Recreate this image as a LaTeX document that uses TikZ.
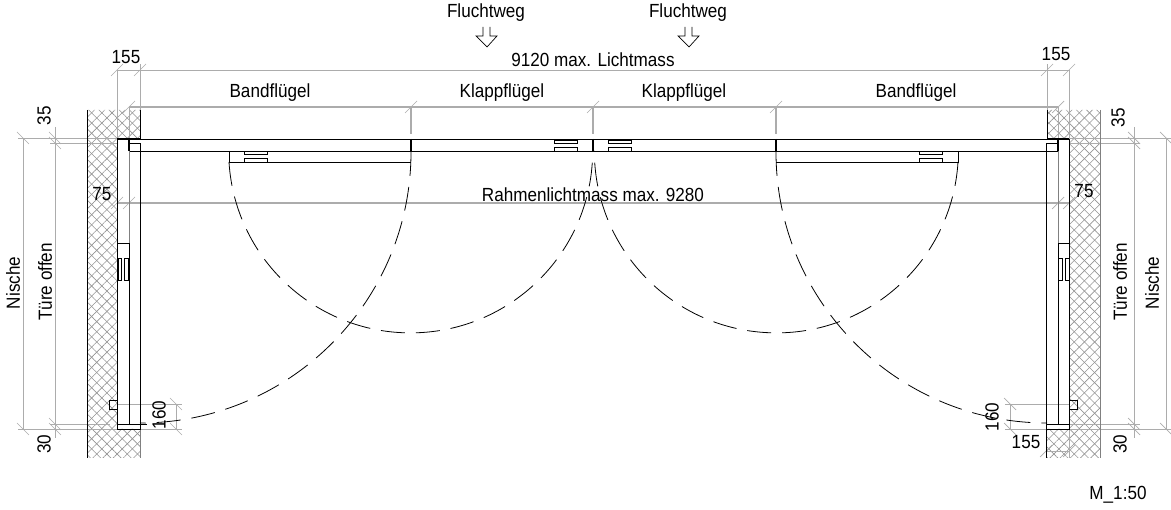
\documentclass[tikz,border=0pt]{standalone}
\usepackage{fontspec}
\setmainfont[FakeStretch=0.9]{Liberation Sans}
\usetikzlibrary{patterns.meta}

\tikzset{
    wall/.style={preaction={pattern={Lines[angle=45,distance=7.2pt,line width=.6pt]},pattern color=gray!85},
        pattern={Lines[angle=-45,distance=7.2pt,line width=.6pt]},pattern color=gray!85},
    dimline/.style={draw=gray!65,line width=.9pt},
    dimtext/.style={inner sep=0pt,font=\fontsize{19}{22}\selectfont},
    plan/.style={draw=black,line width=.9pt},
    swing/.style={draw=black,line width=.8pt,dash pattern=on 24pt off 11pt},
    slash/.pic={\draw[dimline,line width=.7pt] (-6,6) -- (6,-6);},
    backslash/.pic={\draw[dimline,line width=.7pt] (-6,-6) -- (6,6);},
    hinge/.pic={
        \draw[plan,line width=.7pt] (0,0) rectangle (23,3);
        \draw[plan,line width=.7pt] (0,11) -- (0,7) -- (23,7) -- (23,11);
    },
}

\begin{document}
\begin{tikzpicture}[x=1pt,y=-1pt]
    \useasboundingbox (0,0) rectangle (1171,510);

    % walls
    \fill[wall] (87,110) rectangle (117,458) (117,110) rectangle (140,138) (117,429) rectangle (140,458);
    \fill[wall] (1069,110) rectangle (1100,458) (1047,110) rectangle (1069,138) (1046,429) rectangle (1069,458);

    % dimension lines
    \draw[dimline] (117,70) -- (1069,70);
    \draw[dimline] (117,70) -- (117,138) (140,64) -- (140,110);
    \draw[dimline] (1047,64) -- (1047,110) (1069,70) -- (1069,138);
    \draw[dimline,line width=1.1pt] (129,107) -- (1058,107);
    \draw[dimline] (129,107) -- (129,139) (1058,107) -- (1058,139);
    \foreach \xv in {411,593,776}
        \draw[dimline,line width=1.1pt] (\xv,107) -- (\xv,134);
    \draw[dimline,line width=1.1pt] (117,203) -- (1069,203);
    \foreach \xv/\yv in {117/70,140/70,1047/70,1069/70,129/107,411/107,593/107,776/107,1058/107,
                         117/203,129/203,1058/203,1069/203,1046/451,1069/451}
        \pic at (\xv,\yv) {slash};

    \draw[dimline] (18,138) -- (117,138) (50,143) -- (117,143);
    \draw[dimline] (18,429) -- (117,429) (50,424) -- (110,424);
    \draw[dimline] (23,138) -- (23,429) (55,127) -- (55,438);
    \draw[dimline] (1069,138) -- (1171,138) (1069,143) -- (1140,143);
    \draw[dimline] (1069,429) -- (1171,429) (1069,424) -- (1140,424);
    \draw[dimline] (1166,138) -- (1166,429) (1134,127) -- (1134,438);
    \foreach \xv/\yv in {23/138,23/429,55/138,55/143,55/424,55/429,
                         1166/138,1166/429,1134/138,1134/143,1134/424,1134/429,
                         176/404,176/429,1010/404,1010/429}
        \pic at (\xv,\yv) {backslash};

    \draw[dimline] (117,404) -- (182,404) (140,429) -- (182,429);
    \draw[dimline,line width=.7pt] (176,404) -- (176,429);
    \draw[dimline] (1005,404) -- (1069,404) (1005,429) -- (1046,429);
    \draw[dimline,line width=.7pt] (1010,404) -- (1010,429);
    \draw[dimline] (1046,451) -- (1069,451) (1046,429) -- (1046,458) (1069,429) -- (1069,458);

    % wall outlines
    \draw[plan] (87,110) -- (87,458);
    \draw[plan] (140,110) -- (140,138) -- (117,138);
    \draw[plan,draw=gray] (140,458) -- (140,429);
    \draw[plan,draw=gray] (1100,110) -- (1100,458);
    \draw[plan] (1047,110) -- (1047,138) -- (1069,138);
    \draw[plan] (1046,458) -- (1046,429);

    % frame
    \draw[plan] (117,139) -- (1069,139);
    \draw[plan] (129,151) -- (1058,151);
    \draw[plan] (117,139) -- (117,429) -- (140,429) -- (140,143) -- (129,143);
    \draw[plan] (1069,139) -- (1069,429) -- (1046,429) -- (1046,143) -- (1058,143);
    \draw[plan,line width=1.2pt] (129,139) -- (129,151);
    \draw[plan,line width=1.2pt] (1058,139) -- (1058,151);
    \draw[plan,draw=gray] (129,151) -- (129,243);
    \draw[plan,draw=gray] (1058,151) -- (1058,243);

    % open leaves in the niche
    \draw[plan] (117,243) -- (129,243) -- (129,424);
    \draw[plan] (1069,243) -- (1058,243) -- (1058,424);
    \draw[plan] (117,424) -- (147,424);
    \draw[plan] (1046,424) -- (1069,424);
    \foreach \xa/\xb in {118/121,124/128,1058/1062,1065/1069}
        \draw[plan,line width=.7pt] (\xa,258) rectangle (\xb,280);
    \draw[plan,line width=.7pt] (117,400) -- (109,400) -- (109,409) -- (117,409);
    \draw[plan,line width=.7pt] (1069,400) -- (1077,400) -- (1077,409) -- (1069,409);

    % closed leaves
    \foreach \xv in {411,593,776}
        \draw[plan,line width=1.2pt] (\xv,139) -- (\xv,151);
    \draw[plan] (229,151) -- (229,162) -- (411,162);
    \draw[plan] (958,151) -- (958,162) -- (776,162);
    \foreach \xv in {244,919}
        \pic at (\xv,151.5) {hinge};
    \foreach \xv in {554.5,608.5}
        \pic at (\xv,140.5) {hinge};

    % swing arcs
    \draw[swing] (229,162) arc[start angle=176.5,end angle=0,radius=182];
    \draw[swing] (958,162) arc[start angle=3.5,end angle=180,radius=182];
    \draw[swing] (411,152) arc[start angle=0,end angle=90,radius=271];
    \draw[swing] (776,152) arc[start angle=180,end angle=90,radius=271];

    % escape arrows
    \foreach \xv in {0,202}
        \draw[plan,line width=.7pt,xshift=\xv pt] (483,27) -- (483,36) -- (476,36) -- (487,47) -- (497,36) -- (490,36) -- (490,27);

    % labels
    \node[dimtext] (flucht1) at (486,13) {Fluchtweg};
    \node[dimtext] (flucht2) at (688,13) {Fluchtweg};
    \node[dimtext] (licht) at (593,60) {9120 max. Lichtmass};
    \node[dimtext] (band1) at (270,93) {Bandflügel};
    \node[dimtext] (klapp1) at (502,93) {Klappflügel};
    \node[dimtext] (klapp2) at (684,93) {Klappflügel};
    \node[dimtext] (band2) at (916,93) {Bandflügel};
    \node[dimtext] (rahmen) at (593,195) {Rahmenlichtmass max. 9280};
    \node[dimtext] (m155a) at (126,57) {155};
    \node[dimtext] (m155b) at (1056,54) {155};
    \node[dimtext] (m155c) at (1026,442) {155};
    \node[dimtext] (m75a) at (102,194) {75};
    \node[dimtext] (m75b) at (1084,191) {75};
    \node[dimtext,rotate=90] (m35a) at (44,116) {35};
    \node[dimtext,rotate=90] (m35b) at (1118,118) {35};
    \node[dimtext,rotate=90] (m30a) at (44,444) {30};
    \node[dimtext,rotate=90] (m30b) at (1120,444) {30};
    \node[dimtext,rotate=90] (m160a) at (159,415) {160};
    \node[dimtext,rotate=90] (m160b) at (992,417) {160};
    \node[dimtext,rotate=90] (nische1) at (13,283) {Nische};
    \node[dimtext,rotate=90] (offen1) at (45,282) {Türe offen};
    \node[dimtext,rotate=90] (offen2) at (1120,282) {Türe offen};
    \node[dimtext,rotate=90] (nische2) at (1152,283) {Nische};
    \node[dimtext] (scale) at (1118,495) {M\_1:50};
\end{tikzpicture}
\end{document}
